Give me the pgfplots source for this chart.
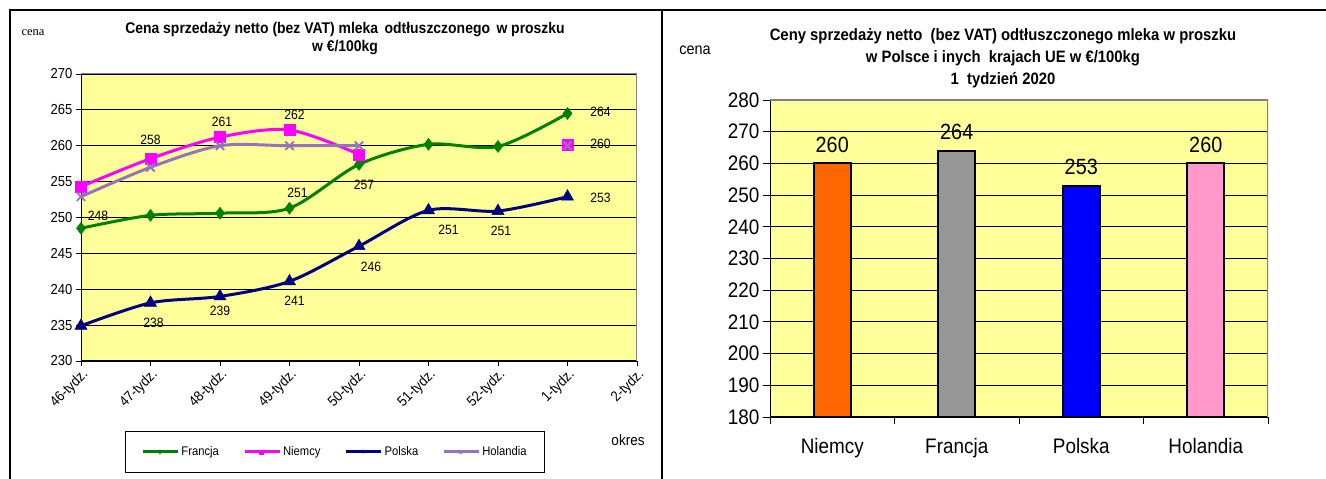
\documentclass[border=0pt]{standalone}
\usepackage{pgfplots}
\pgfplotsset{compat=1.18}
\usepackage{pgfplotstable}
\usepackage{fontspec}
\setmainfont{Liberation Sans}[FakeStretch=0.9]
\newfontfamily\timesf{Liberation Serif}
\definecolor{fr}{RGB}{0,128,0}
\definecolor{nm}{RGB}{255,0,255}
\definecolor{pl}{RGB}{0,0,128}
\definecolor{ho}{RGB}{150,115,190}
\definecolor{plotbg}{RGB}{255,255,153}
\definecolor{bor}{RGB}{128,128,128}
\definecolor{cor}{RGB}{255,102,0}
\definecolor{cgr}{RGB}{150,150,150}
\definecolor{cbl}{RGB}{0,0,255}
\definecolor{cpk}{RGB}{255,153,204}

\pgfplotstableread{
x fr nm pl ho
0 248.5 254.3 234.9 252.9
1 250.3 258.2 238.1 257.0
2 250.6 261.2 239.0 260.0
3 251.3 262.2 241.1 260.0
4 257.4 258.8 246.0 260.0
5 260.2 nan 251.0 nan
6 259.9 nan 250.9 nan
7 264.5 260.2 252.9 260.0
}\weekly

\pgfplotstableread{
x y lab dx dy
0 248.5 248 17 12
3 251.3 251 8 15
4 257.4 257 5 -20
7 264.5 264 33 2
1 258.2 258 0 19
2 261.2 261 2 15
3 262.2 262 5 15
7 260.2 260 33 0
7 252.9 253 33 -1
1 238.1 238 3 -20
2 239.0 239 0 -14
3 241.1 241 5 -19
4 246.0 246 12 -21
5 251.0 251 20 -20
6 250.9 251 3 -20
}\labels

\begin{document}
\begin{tikzpicture}
\path[use as bounding box] (0pt,0pt) rectangle (1326pt,479pt);
\draw[line width=1.5pt] (10pt,0pt) -- (10pt,469pt) -- (1326pt,469pt);
\draw[line width=1.5pt] (662pt,0pt) -- (662pt,469pt);

% left chart texts
\node[font=\timesf\fontsize{12.5}{12.5}\selectfont] at (33pt,446pt) {cena};
\node[font=\bfseries\fontsize{15.5}{18}\selectfont, align=center] at (345pt,440pt) {Cena sprzedaży netto (bez VAT) mleka\, odtłuszczonego\, w proszku\\w €/100kg};
\node[font=\fontsize{15}{15}\selectfont] at (628pt,39pt) {okres};

% right chart texts
\node[font=\fontsize{16}{16}\selectfont] at (695pt,429pt) {cena};
\node[font=\bfseries\fontsize{16.5}{22}\selectfont, align=center] at (1003pt,421pt) {Ceny sprzedaży netto\ \ (bez VAT) odtłuszczonego mleka w proszku\\w Polsce i inych\ \ krajach\ UE w €/100kg\\1\ \ tydzień 2020};

\begin{axis}[
  at={(81pt,118pt)}, anchor=south west,
  scale only axis, width=556pt, height=287pt,
  xmin=0, xmax=8, ymin=230, ymax=270,
  ytick={230,235,...,270},
  xtick={0,...,8},
  xticklabels={46-tydz.,47-tydz.,48-tydz.,49-tydz.,50-tydz.,51-tydz.,52-tydz.,1-tydz.,2-tydz.},
  axis background/.style={fill=plotbg},
  axis x line*=bottom, axis y line*=left,
  axis line style={black, line width=1pt},
  tick align=outside, major tick length=5pt,
  tick style={black, line width=0.8pt},
  ymajorgrids, grid style={black, line width=0.8pt},
  /pgf/number format/assume math mode=true,
  y tick label style={font=\fontsize{14.5}{14.5}\selectfont},
  x tick label style={font=\fontsize{14.5}{14.5}\selectfont, rotate=45, anchor=north east, inner sep=1pt},
  unbounded coords=jump,
  legend columns=4,
  legend style={at={(rel axis cs:0.457,-0.317)}, anchor=center, draw=black, line width=0.8pt,
    font=\fontsize{12.5}{12.5}\selectfont, inner xsep=16pt, inner ysep=13pt,
    /tikz/every even column/.append style={column sep=22pt}},
  legend image code/.code={\draw[mark repeat=2, mark phase=2, #1, mark size=2pt] plot coordinates {(0pt,0pt) (17pt,0pt) (35pt,0pt)};},
]
\draw[bor, line width=1pt] (rel axis cs:0,1) -- (rel axis cs:1,1) -- (rel axis cs:1,0);
\addplot[fr, line width=3pt, smooth, mark=diamond*, mark size=6pt, mark options={solid, fill=fr, draw=fr, line width=0.5pt}] table[x=x, y=fr] {\weekly};
\addlegendentry{Francja}
\addplot[nm, line width=3pt, smooth, mark=square*, mark size=5.5pt, mark options={solid, fill=nm, draw=nm, line width=0.5pt}] table[x=x, y=nm] {\weekly};
\addlegendentry{Niemcy}
\addplot[pl, line width=3pt, smooth, mark=triangle*, mark size=7pt, mark options={solid, fill=pl, draw=pl, line width=0.5pt}] table[x=x, y=pl] {\weekly};
\addlegendentry{Polska}
\addplot[ho, line width=3pt, smooth, mark=x, mark size=6pt, mark options={solid, draw=ho, line width=1.8pt}] table[x=x, y=ho] {\weekly};
\addlegendentry{Holandia}
\addplot[draw=none, mark=none, forget plot, point meta=explicit symbolic,
  visualization depends on={\thisrow{dx}\as\dx},
  visualization depends on={\thisrow{dy}\as\dy},
  nodes near coords,
  every node near coord/.style={anchor=center, inner sep=0pt, font=\fontsize{13.5}{13.5}\selectfont, xshift=\dx pt, yshift=\dy pt}]
  table[x=x, y=y, meta=lab] {\labels};
\end{axis}

\begin{axis}[
  at={(770pt,62pt)}, anchor=south west,
  scale only axis, width=498pt, height=317pt,
  xmin=-0.5, xmax=3.5, ymin=180, ymax=280,
  ytick={180,190,...,280},
  xtick={-0.5,0.5,1.5,2.5,3.5}, xticklabels={},
  extra x ticks={0,1,2,3},
  extra x tick labels={Niemcy,Francja,Polska,Holandia},
  extra x tick style={major tick length=0pt, tick label style={font=\fontsize{21}{21}\selectfont, yshift=-18pt}},
  axis background/.style={fill=plotbg},
  axis x line*=bottom, axis y line*=left,
  axis line style={black, line width=1pt},
  tick align=outside, major tick length=7pt,
  tick style={black, line width=0.8pt},
  ymajorgrids, grid style={black, line width=0.8pt},
  /pgf/number format/assume math mode=true,
  y tick label style={font=\fontsize{21}{21}\selectfont},
  ybar, bar width=37pt, bar shift=0pt,
  nodes near coords,
  every node near coord/.style={anchor=south, inner sep=0pt, yshift=10pt, font=\fontsize{22}{22}\selectfont, black},
]
\draw[bor, line width=1.5pt] (rel axis cs:0,1) -- (rel axis cs:1,1) -- (rel axis cs:1,0);
\addplot[fill=cor, draw=black, line width=2pt] coordinates {(0,260)};
\addplot[fill=cgr, draw=black, line width=2pt] coordinates {(1,264)};
\addplot[fill=cbl, draw=black, line width=2pt] coordinates {(2,253)};
\addplot[fill=cpk, draw=black, line width=2pt] coordinates {(3,260)};
\end{axis}
\end{tikzpicture}
\end{document}
